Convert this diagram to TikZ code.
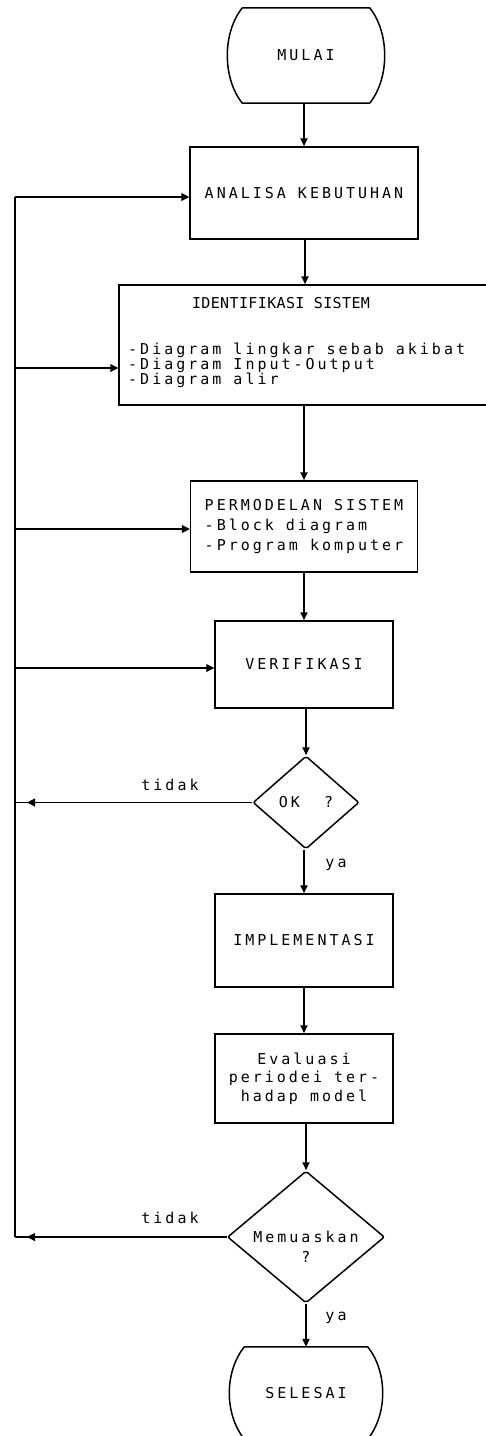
\documentclass[tikz,border=0pt]{standalone}
\usepackage{fontspec}
\usepackage{tikz}
\usetikzlibrary{shapes.geometric, arrows.meta, positioning}

\newfontfamily\printfont[LetterSpace=20]{DejaVu Sans Mono}
\newfontfamily\printfontrapat[LetterSpace=2.5]{DejaVu Sans Mono}

\tikzset{
  proses/.style={draw, line width=1.5pt, inner sep=0pt},
  keputusan/.style={diamond, draw, line width=1.5pt, inner sep=0pt, rounded corners=2pt},
  alur/.style={line width=2pt, -{Triangle[length=8pt,width=7pt]}},
  balik/.style={line width=1.1pt, -{Triangle[length=8pt,width=8pt]}},
  ket/.style={inner sep=0pt}
}

\begin{document}
\begin{tikzpicture}[x=1pt,y=-1pt, font=\printfont\fontsize{15}{17}\selectfont]
  \useasboundingbox (0,0) rectangle (485,1436);

  % terminal mulai
  \node[ket, minimum width=127pt, minimum height=95pt] (mulai) at (306,55.5) {MULAI};
  \draw[line width=1.5pt] (mulai.north west) -- (mulai.north east)
    .. controls +(20,25) and +(20,-25) .. (mulai.south east) -- (mulai.south west)
    .. controls +(-20,-25) and +(-20,25) .. (mulai.north west);

  % kotak proses
  \node[proses, minimum width=228pt, minimum height=92pt] (analisa) at (304,193) {ANALISA KEBUTUHAN};
  \node[proses, minimum width=372pt, minimum height=120pt] (identifikasi) at (305,345) {};
  \node[ket, font=\printfontrapat\fontsize{15}{17}\selectfont] (judulid) at (281,303) {IDENTIFIKASI SISTEM};
  \node[ket, anchor=west, align=left, font=\printfont\fontsize{15}{15}\selectfont] (daftarid) at (128,365)
    {-Diagram lingkar sebab akibat\\-Diagram Input-Output\\-Diagram alir};
  \node[proses, minimum width=227pt, minimum height=91pt, align=left,
        font=\printfont\fontsize{15}{20}\selectfont] (permodelan) at (304,526.5)
    {PERMODELAN SISTEM\\-Block diagram\\-Program komputer};
  \node[proses, minimum width=178pt, minimum height=87pt] (verifikasi) at (304,664.5) {VERIFIKASI};
  \node[keputusan, minimum width=106pt, minimum height=93pt] (ok) at (306,802.5) {OK\ \ ?};
  \node[proses, minimum width=178pt, minimum height=93pt] (implementasi) at (304,940.5) {IMPLEMENTASI};
  \node[proses, minimum width=178pt, minimum height=89pt, align=center,
        font=\printfont\fontsize{15}{18.5}\selectfont] (evaluasi) at (304,1078.5)
    {Evaluasi\\periodei ter-\\hadap model};
  \node[keputusan, minimum width=157pt, minimum height=132pt] (puas) at (306,1237) {};
  \node[ket, align=center, font=\printfont\fontsize{15}{20}\selectfont] (tekspuas) at (306,1247) {Memuaskan\\?};

  % terminal selesai
  \node[ket, minimum width=123pt, minimum height=92pt] (selesai) at (306,1393) {SELESAI};
  \draw[line width=1.5pt] (selesai.north west) -- (selesai.north east)
    .. controls +(20,25) and +(20,-25) .. (selesai.south east) -- (selesai.south west)
    .. controls +(-20,-25) and +(-20,25) .. (selesai.north west);

  % alur utama
  \foreach \a/\b in {mulai/analisa, analisa/identifikasi, identifikasi/permodelan,
                     permodelan/verifikasi, verifikasi/ok, ok/implementasi,
                     implementasi/evaluasi, evaluasi/puas, puas/selesai}{
    \draw[alur] (\b.north |- \a.south) -- (\b.north);
  }

  % jalur balik di kiri
  \coordinate (bus) at (15,0);
  \foreach \kotak/\geser in {analisa/-4pt, identifikasi/-23pt, permodelan/-2.5pt, verifikasi/-3.5pt}{
    \path ([yshift=\geser]\kotak.west) coordinate (masuk);
    \draw[balik] (masuk -| bus) -- (masuk);
  }
  \draw[line width=1.1pt] ([yshift=-4pt]analisa.west -| bus) -- (puas.west -| bus);

  % cabang tidak
  \foreach \d in {ok, puas}{
    \draw[line width=1.1pt] (\d.west) -- (\d.west -| bus);
    \draw[balik] (\d.west) -- ([xshift=12pt]\d.west -| bus);
  }
  \node[ket] (tidak1) at (170,785) {tidak};
  \node[ket] (tidak2) at (170,1218) {tidak};
  \node[ket] (ya1) at (336,865) {ya};
  \node[ket] (ya2) at (336,1318) {ya};
\end{tikzpicture}
\end{document}
